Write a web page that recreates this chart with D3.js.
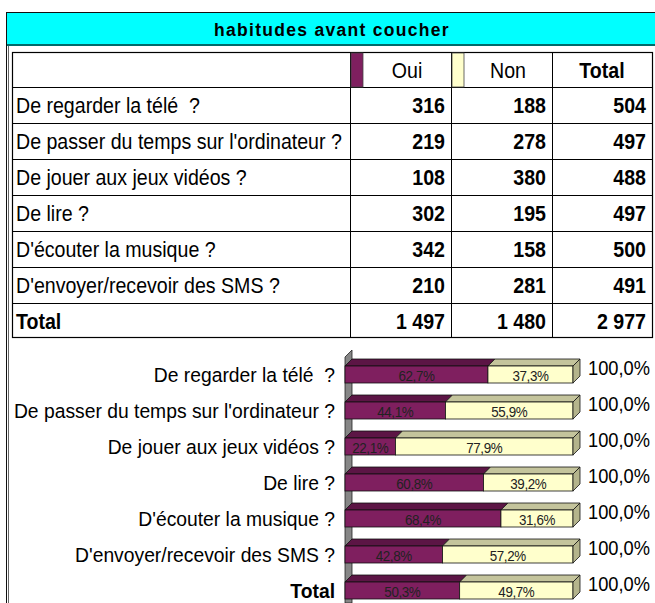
<!DOCTYPE html>
<html><head><meta charset="utf-8">
<script src="https://cdn.jsdelivr.net/npm/d3@7"></script>
<style>
html,body{margin:0;padding:0;background:#fff;}
svg{display:block;font-family:"Liberation Sans",Arial,sans-serif;}
text{white-space:pre;}
</style></head><body>
<svg id="chart" width="655" height="603"></svg>
<script>
// Survey: habits before going to bed
const title = "habitudes avant coucher";
const categories = [
  "De regarder la télé  ?",
  "De passer du temps sur l'ordinateur ?",
  "De jouer aux jeux vidéos ?",
  "De lire ?",
  "D'écouter la musique ?",
  "D'envoyer/recevoir des SMS ?"
];
const totalLabel = "Total";
const seriesNames = ["Oui", "Non"];
const oui = [316, 219, 108, 302, 342, 210];
const non = [188, 278, 380, 195, 158, 281];

const ouiColor = "#7f1f5f", ouiTop = "#5c1545";
const nonColor = "#ffffcc", nonTop = "#c4c49c", nonSide = "#b4b48c";

const loc = d3.formatLocale({decimal: ",", thousands: "\u00a0", grouping: [3], currency: ["", "€"]});
const fmtInt = loc.format(",d");
const fmtPct = loc.format(".1%");

// rows including the grand total
const rows = categories.map((c, i) => ({label: c, oui: oui[i], non: non[i], bold: false}));
rows.push({label: totalLabel, oui: d3.sum(oui), non: d3.sum(non), bold: true});
rows.forEach(r => { r.total = r.oui + r.non; r.pOui = r.oui / r.total; r.pNon = r.non / r.total; });

const svg = d3.select("#chart");
const sy = 1.08; // slightly tall glyphs
function txt(parent, x, y) {
  return parent.append("text").attr("transform", `translate(${x},${y}) scale(1,${sy})`);
}

// outer frame
svg.append("line").attr("x1", 6.5).attr("x2", 6.5).attr("y1", 12).attr("y2", 603).attr("stroke", "#111");
svg.append("line").attr("x1", 8.5).attr("x2", 8.5).attr("y1", 46).attr("y2", 603).attr("stroke", "#666");

// title band
svg.append("rect").attr("x", 6.5).attr("y", 12.5).attr("width", 660).attr("height", 32)
  .attr("fill", "#00ffff").attr("stroke", "#111");
svg.append("line").attr("x1", 7).attr("x2", 655).attr("y1", 45).attr("y2", 45).attr("stroke", "#006a6a").attr("stroke-width", 2);
txt(svg, 332, 36).attr("text-anchor", "middle")
  .attr("font-size", 17.5).attr("font-weight", "bold").attr("letter-spacing", 1.3).attr("fill", "#000")
  .text(title);

// ---- table ----
const colX = [12, 350, 451, 552, 652];
const rowY = [52, 87, 123, 159, 195, 231, 267, 303, 337];
const fs = 19.6;
const tbl = svg.append("g");

tbl.append("rect").attr("x", colX[0] + 0.5).attr("y", rowY[0] + 0.5)
  .attr("width", colX[4] - colX[0]).attr("height", rowY[8] - rowY[0])
  .attr("fill", "#fff").attr("stroke", "#000").attr("stroke-width", 1.2);
rowY.slice(1, 8).forEach(y => tbl.append("line").attr("x1", colX[0]).attr("x2", colX[4])
  .attr("y1", y + 0.5).attr("y2", y + 0.5).attr("stroke", "#000"));
colX.slice(1, 4).forEach(x => tbl.append("line").attr("x1", x + 0.5).attr("x2", x + 0.5)
  .attr("y1", rowY[0]).attr("y2", rowY[8]).attr("stroke", "#000"));

// legend swatches in header
[[colX[1], ouiColor], [colX[2], nonColor]].forEach(([x, c]) => {
  tbl.append("rect").attr("x", x + 1).attr("y", rowY[0] + 1).attr("width", 12).attr("height", rowY[1] - rowY[0] - 1)
    .attr("fill", c).attr("stroke", "#444").attr("stroke-width", 0.8);
});
const headers = [seriesNames[0], seriesNames[1], totalLabel];
headers.forEach((h, i) => {
  const x0 = i < 2 ? colX[i + 1] + 13 : colX[i + 1];
  txt(tbl, (x0 + colX[i + 2]) / 2, rowY[0] + 26)
    .attr("text-anchor", "middle").attr("font-size", fs).attr("font-weight", i === 2 ? "bold" : "normal")
    .text(h);
});
rows.forEach((r, i) => {
  const base = rowY[i + 1] + 26;
  txt(tbl, 16, base).attr("font-size", fs)
    .attr("font-weight", r.bold ? "bold" : "normal").text(r.label);
  [r.oui, r.non, r.total].forEach((v, j) => {
    txt(tbl, colX[j + 2] - 6, base).attr("text-anchor", "end")
      .attr("font-size", fs).attr("font-weight", "bold").text(fmtInt(v));
  });
});

// ---- 3D stacked 100% bar chart ----
const depth = 7;
const x = d3.scaleLinear().domain([0, 1]).range([345, 573]);
const y = d3.scaleBand().domain(rows.map(r => r.label)).range([356.5, 608.5])
  .paddingInner(19 / 36).paddingOuter(19 / 72);
const bw = y.bandwidth();

const chart = svg.append("g");

// side wall
chart.append("path")
  .attr("d", `M${x(0)},${y.range()[0] + 0.5}L${x(0) + depth},${y.range()[0] - 6.5}L${x(0) + depth},603L${x(0)},603Z`)
  .attr("fill", "#868686").attr("stroke", "#222").attr("stroke-width", 0.8);

rows.forEach(r => {
  const y0 = y(r.label);
  const g = chart.append("g");
  const segs = [
    {a: 0, b: r.pOui, front: ouiColor, top: ouiTop, label: fmtPct(r.pOui)},
    {a: r.pOui, b: r.pOui + r.pNon, front: nonColor, top: nonTop, label: fmtPct(r.pNon)}
  ];
  segs.forEach(s => {
    g.append("path")
      .attr("d", `M${x(s.a)},${y0}L${x(s.a) + depth},${y0 - depth}L${x(s.b) + depth},${y0 - depth}L${x(s.b)},${y0}Z`)
      .attr("fill", s.top).attr("stroke", "#111").attr("stroke-width", 0.8).attr("stroke-linejoin", "round");
    g.append("rect").attr("x", x(s.a)).attr("y", y0).attr("width", x(s.b) - x(s.a)).attr("height", bw)
      .attr("fill", s.front).attr("stroke", "#111").attr("stroke-width", 0.8);
    txt(g, (x(s.a) + x(s.b)) / 2, y0 + bw - 2)
      .attr("text-anchor", "middle").attr("font-size", 13.4).attr("letter-spacing", -0.4).attr("fill", "#222")
      .text(s.label);
  });
  const xe = x(r.pOui + r.pNon);
  g.append("path")
    .attr("d", `M${xe},${y0}L${xe + depth},${y0 - depth}L${xe + depth},${y0 + bw - depth}L${xe},${y0 + bw}Z`)
    .attr("fill", nonSide).attr("stroke", "#111").attr("stroke-width", 0.8).attr("stroke-linejoin", "round");
  // row total share
  txt(g, xe + depth + 8, y0 + 9).attr("font-size", 18.3)
    .text(fmtPct(r.pOui + r.pNon));
  // category label
  txt(g, 335, y0 + 16).attr("text-anchor", "end").attr("font-size", 19.3)
    .attr("font-weight", r.bold ? "bold" : "normal").text(r.label);
});
</script>
</body></html>
